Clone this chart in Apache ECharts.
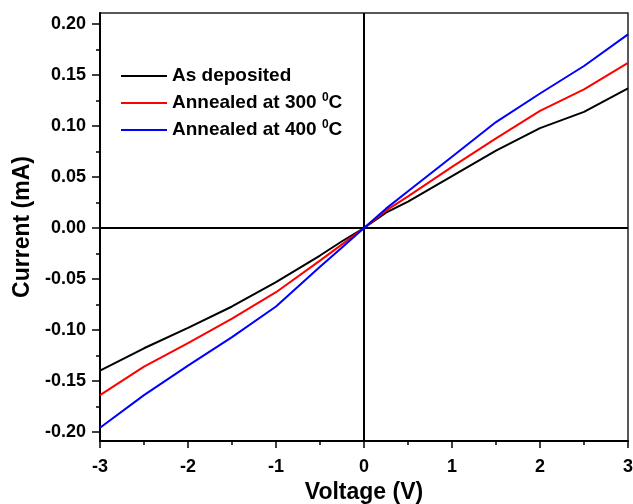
<!DOCTYPE html>
<html>
<head>
<meta charset="utf-8">
<script src="https://cdn.jsdelivr.net/npm/echarts@6/dist/echarts.min.js"></script>
<style>
  html, body { margin: 0; padding: 0; background: #fff; }
  #chart { width: 633px; height: 504px; }
</style>
</head>
<body>
<div id="chart"></div>
<script>
// Voltage sweep (V)
const voltage = [-3, -2.5, -2, -1.5, -1, -0.5, -0.25, 0, 0.25, 0.5, 1, 1.5, 2, 2.5, 3];
// Current (mA) for each film
const asDeposited = [-0.140, -0.118, -0.098, -0.077, -0.053, -0.027, -0.013, 0, 0.015, 0.026, 0.051, 0.076, 0.098, 0.114, 0.137];
const annealed300 = [-0.164, -0.136, -0.113, -0.089, -0.063, -0.032, -0.016, 0, 0.017, 0.031, 0.060, 0.088, 0.115, 0.136, 0.162];
const annealed400 = [-0.196, -0.164, -0.135, -0.107, -0.077, -0.038, -0.019, 0, 0.019, 0.036, 0.070, 0.104, 0.132, 0.159, 0.190];

const seriesNames = ['As deposited', 'Annealed at 300 \u2070C', 'Annealed at 400 \u2070C'];
const legendLabels = ['As deposited', 'Annealed at 300 {sup|0}C', 'Annealed at 400 {sup|0}C'];

const xTicks = [-3, -2, -1, 0, 1, 2, 3];
const yTicks = [-0.20, -0.15, -0.10, -0.05, 0.00, 0.05, 0.10, 0.15, 0.20];
const yMinorTicks = [-0.175, -0.125, -0.075, -0.025, 0.025, 0.075, 0.125, 0.175];

const FONT = 'Liberation Sans, Arial, sans-serif';
const pairs = (ys) => voltage.map((v, i) => [v, ys[i]]);

const chart = echarts.init(document.getElementById('chart'), null, { renderer: 'canvas' });

const axisLabelStyle = { color: '#000', fontFamily: FONT, fontWeight: 'bold', fontSize: 18 };
const titleStyle = { color: '#000', fontFamily: FONT, fontWeight: 'bold', fontSize: 23 };

chart.setOption({
  animation: false,
  backgroundColor: '#fff',
  grid: {
    left: 100, right: 5, top: 13, bottom: 63,
    outerBoundsMode: 'none', containLabel: false,
    show: true, borderColor: '#222', borderWidth: 1.5, backgroundColor: 'transparent'
  },
  legend: {
    orient: 'vertical',
    left: 121, top: 65, padding: 0,
    icon: 'rect',
    itemWidth: 46, itemHeight: 2, itemGap: 5,
    data: seriesNames,
    formatter: (name) => legendLabels[seriesNames.indexOf(name)],
    textStyle: {
      color: '#000', fontFamily: FONT, fontWeight: 'bold', fontSize: 19, lineHeight: 22,
      rich: {
        sup: { fontFamily: FONT, fontWeight: 'bold', fontSize: 12, color: '#000', verticalAlign: 'top', lineHeight: 12, padding: [0, 0, 10, 0] }
      }
    }
  },
  xAxis: {
    type: 'value', min: -3, max: 3, interval: 1,
    name: 'Voltage (V)', nameLocation: 'middle', nameGap: 40,
    nameTextStyle: titleStyle,
    axisLine: { onZero: false, lineStyle: { color: '#000', width: 2 } },
    axisTick: { show: true, inside: false, length: 7, lineStyle: { color: '#000', width: 1.5 } },
    minorTick: { show: true, splitNumber: 2, length: 4, lineStyle: { color: '#000', width: 1.5 } },
    axisLabel: Object.assign({ margin: 17, formatter: (v) => String(v) }, axisLabelStyle),
    splitLine: { show: false }
  },
  yAxis: [
    {
      type: 'value', min: -0.209, max: 0.211,
      name: 'Current (mA)', nameLocation: 'middle', nameGap: 63,
      nameTextStyle: titleStyle,
      axisLine: { onZero: false, lineStyle: { color: '#000', width: 2 } },
      axisTick: { show: true, inside: false, length: 8, customValues: yTicks, lineStyle: { color: '#000', width: 1.5 } },
      axisLabel: Object.assign({ margin: 14, customValues: yTicks, formatter: (v) => v.toFixed(2) }, axisLabelStyle),
      splitLine: { show: false }
    },
    {
      type: 'value', min: -0.209, max: 0.211, position: 'left',
      axisLine: { show: false, onZero: false },
      axisTick: { show: true, inside: false, length: 4, customValues: yMinorTicks, lineStyle: { color: '#000', width: 1.5 } },
      axisLabel: { show: false },
      splitLine: { show: false }
    }
  ],
  series: [
    {
      name: seriesNames[0], type: 'line', data: pairs(asDeposited), symbol: 'none',
      lineStyle: { color: '#000', width: 2 }, itemStyle: { color: '#000' }, z: 3,
      markLine: {
        silent: true, symbol: 'none', label: { show: false },
        lineStyle: { color: '#000', width: 2, type: 'solid' },
        data: [{ xAxis: 0 }, { yAxis: 0 }]
      }
    },
    {
      name: seriesNames[1], type: 'line', data: pairs(annealed300), symbol: 'none',
      lineStyle: { color: '#ff0000', width: 2 }, itemStyle: { color: '#ff0000' }, z: 4
    },
    {
      name: seriesNames[2], type: 'line', data: pairs(annealed400), symbol: 'none',
      lineStyle: { color: '#0000ff', width: 2 }, itemStyle: { color: '#0000ff' }, z: 5
    }
  ]
});
</script>
</body>
</html>
